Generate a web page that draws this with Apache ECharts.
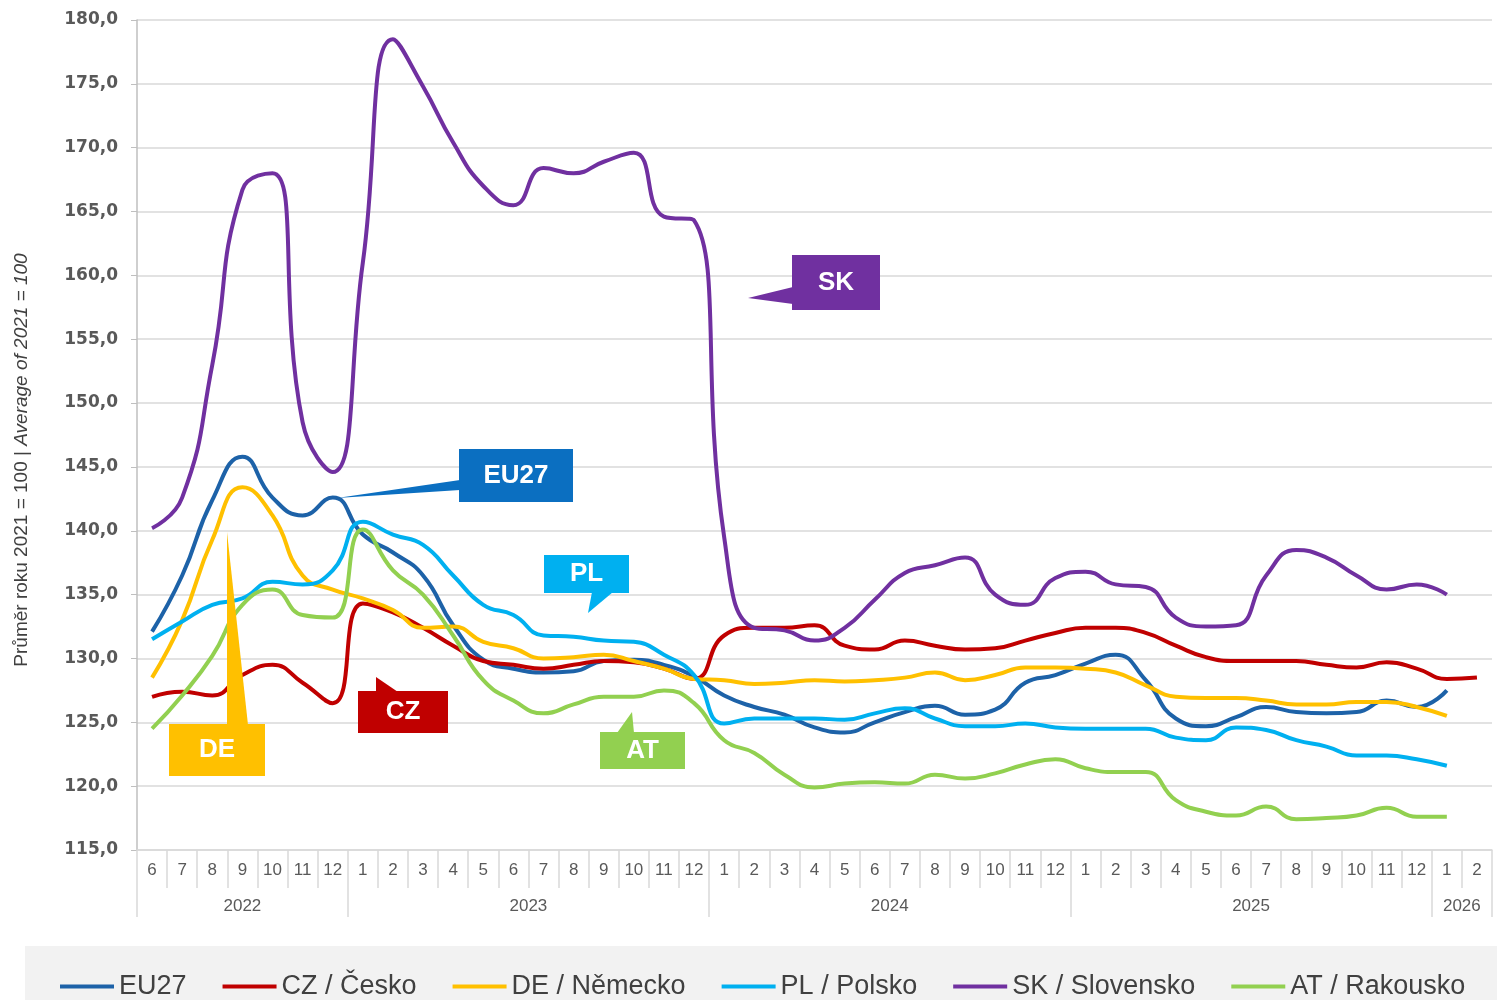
<!DOCTYPE html>
<html>
<head>
<meta charset="utf-8">
<script src="https://cdn.jsdelivr.net/npm/echarts@6/dist/echarts.min.js"></script>
<style>
  html, body { margin: 0; padding: 0; background: #fff; }
  #main { width: 1497px; height: 1000px; }
</style>
</head>
<body>
<div id="main"></div>
<script>
// měsíce 6/2022 .. 2/2026
const months = ['6','7','8','9','10','11','12',
  '1','2','3','4','5','6','7','8','9','10','11','12',
  '1','2','3','4','5','6','7','8','9','10','11','12',
  '1','2','3','4','5','6','7','8','9','10','11','12',
  '1','2'];
const yearNames = ['2022', '2023', '2024', '2025', '2026'];
const yearMonthCounts = [7, 12, 12, 12, 2];

const yTicks = { min: 115, max: 180, step: 5 };

const eu27 = [132.1,136.5,142.4,145.8,142.6,141.2,142.6,139.7,138.3,136.5,132.6,129.9,129.2,128.9,129.0,129.8,129.9,129.5,128.6,
  127.1,126.2,125.6,124.6,124.2,125.0,125.8,126.3,125.6,126.0,128.1,128.7,
  129.6,130.3,128.3,125.3,124.7,125.4,126.2,125.8,125.7,125.8,126.7,126.2,
  127.5];
const cz = [127.0,127.4,127.1,128.7,129.5,128.1,126.5,134.3,133.6,132.4,131.0,129.8,129.5,129.2,129.5,129.8,129.7,129.2,128.4,
  131.8,132.4,132.4,132.6,131.0,130.7,131.4,131.0,130.7,130.8,131.4,132.0,
  132.4,132.4,132.0,131.0,130.1,129.8,129.8,129.8,129.5,129.3,129.7,129.2,
  128.4,128.5];
const de = [128.5,133.0,139.3,143.4,141.2,136.5,135.4,134.7,133.8,132.4,132.5,131.3,130.8,130.0,130.1,130.3,129.8,129.2,128.4,
  128.3,128.0,128.1,128.3,128.2,128.3,128.5,128.9,128.3,128.7,129.3,129.3,
  129.2,128.9,127.9,127.0,126.9,126.9,126.7,126.4,126.4,126.6,126.6,126.2,
  125.5];
const pl = [131.5,132.9,134.2,134.7,136.0,135.8,136.9,140.7,139.7,138.9,136.5,134.2,133.4,131.8,131.7,131.4,131.3,130.3,128.7,
  124.9,125.3,125.3,125.3,125.2,125.7,126.1,125.3,124.7,124.7,124.9,124.6,
  124.5,124.5,124.5,123.8,123.6,124.6,124.4,123.6,123.1,122.4,122.4,122.1,
  121.6];
const sk = [140.2,142.6,153.0,166.7,168.0,148.5,144.6,161.0,178.5,174.8,170.4,167.0,165.5,168.4,168.0,168.9,169.6,164.6,164.3,
  139.5,132.4,132.2,131.4,132.4,134.6,136.7,137.3,137.9,135.0,134.2,136.3,
  136.8,135.8,135.6,133.2,132.5,132.6,136.5,138.5,137.9,136.5,135.4,135.8,
  135.0];
const at = [124.5,127.1,130.2,134.2,135.4,133.4,133.2,140.1,136.9,135.0,131.8,128.3,126.7,125.7,126.4,127.0,127.0,127.5,126.5,
  123.6,122.6,120.9,119.9,120.2,120.3,120.2,120.9,120.6,121.0,121.7,122.1,
  121.4,121.1,121.1,118.9,118.0,117.7,118.4,117.4,117.5,117.7,118.3,117.6,
  117.6];

const seriesNames = ['EU27', 'CZ / Česko', 'DE / Německo', 'PL / Polsko', 'SK / Slovensko', 'AT / Rakousko'];
const seriesData = [eu27, cz, de, pl, sk, at];
const colors = ['#1d62a8', '#c00000', '#ffc000', '#00b0f0', '#7030a0', '#92d050'];

// popisky (bubliny) u čar
const callouts = [
  { label: 'SK',   color: '#7030a0', box: [792, 255, 88, 55],  tip: [[793, 287], [748, 298], [793, 304]] },
  { label: 'EU27', color: '#0b6fc1', box: [459, 449, 114, 53], tip: [[460, 480], [337, 498], [460, 490]] },
  { label: 'PL',   color: '#00b0f0', box: [544, 555, 85, 38],  tip: [[592, 592], [588, 613], [613, 592]] },
  { label: 'CZ',   color: '#c00000', box: [358, 691, 90, 42],  tip: [[376, 692], [376, 677], [398, 692]] },
  { label: 'DE',   color: '#ffc000', box: [169, 724, 96, 52],  tip: [[227, 725], [227, 532], [248, 725]] },
  { label: 'AT',   color: '#92d050', box: [600, 732, 85, 37],  tip: [[617, 733], [632, 712], [634, 733]] }
];

// roky – popisek na středu skupiny měsíců
const yearLabelAt = {};
const yearStarts = [];
let pos = 0;
yearNames.forEach((y, k) => {
  const n = yearMonthCounts[k];
  yearStarts.push(pos);
  if (n % 2) yearLabelAt[pos + (n - 1) / 2] = '{c|' + y + '}';
  else yearLabelAt[pos + n / 2 - 1] = '{s|' + y + '}';
  pos += n;
});

const font = 'Liberation Sans, Arial, sans-serif';
const graphics = [
  { type: 'rect', left: 25, top: 946, shape: { width: 1472, height: 54 }, style: { fill: '#f2f2f2' }, z: 0 }
];
callouts.forEach(c => {
  graphics.push({ type: 'polygon', shape: { points: c.tip }, style: { fill: c.color }, z: 10 });
  graphics.push({ type: 'rect', shape: { x: c.box[0], y: c.box[1], width: c.box[2], height: c.box[3] }, style: { fill: c.color }, z: 10 });
  graphics.push({
    type: 'text', z: 11,
    style: {
      text: c.label, x: c.box[0] + c.box[2] / 2, y: c.box[1] + c.box[3] / 2,
      align: 'center', verticalAlign: 'middle',
      fill: '#fff', font: 'bold 26px ' + font
    }
  });
});

let myChart = echarts.init(document.getElementById('main'));
myChart.setOption({
  animation: false,
  backgroundColor: '#fff',
  textStyle: { fontFamily: font },
  grid: { left: 137, top: 20, right: 5, bottom: 150, outerBoundsMode: 'none' },
  legend: {
    left: 60, top: 973, padding: 0,
    icon: 'rect', itemWidth: 54, itemHeight: 4, itemGap: 36,
    textStyle: { fontSize: 27, color: '#404040', fontFamily: font },
    data: seriesNames
  },
  xAxis: [
    {
      type: 'category', data: months, boundaryGap: true,
      axisLine: { show: true, lineStyle: { color: '#d9d9d9', width: 1.5 } },
      axisTick: { show: true, length: 38, interval: 0, lineStyle: { color: '#d9d9d9', width: 1.5 } },
      axisLabel: { interval: 0, margin: 12, fontSize: 17, color: '#595959' },
      splitLine: { show: false }
    },
    {
      type: 'category', data: months, boundaryGap: true, position: 'bottom', offset: 0,
      axisLine: { show: false },
      axisTick: {
        show: true, length: 67,
        interval: (i) => yearStarts.indexOf(i) >= 0,
        lineStyle: { color: '#d9d9d9', width: 1.5 }
      },
      axisLabel: {
        interval: 0, margin: 48,
        formatter: (v, i) => yearLabelAt[i] || '',
        rich: {
          c: { fontSize: 17, color: '#595959' },
          s: { fontSize: 17, color: '#595959', padding: [0, 0, 0, 30] }
        }
      },
      splitLine: { show: false }
    }
  ],
  yAxis: {
    type: 'value', min: yTicks.min, max: yTicks.max, interval: yTicks.step,
    name: '{n|Průměr roku 2021 = 100 | }{i|Average of 2021 = 100}',
    nameLocation: 'middle', nameGap: 106, nameRotate: 90,
    nameTextStyle: {
      padding: [0, 50, 0, 0],
      rich: {
        n: { fontSize: 19, color: '#404040', fontFamily: font },
        i: { fontSize: 19, color: '#404040', fontStyle: 'italic', fontFamily: font }
      }
    },
    axisLine: { show: true, lineStyle: { color: '#bfbfbf', width: 1.5 } },
    axisTick: { show: true, length: 6, lineStyle: { color: '#bfbfbf' } },
    axisLabel: {
      margin: 19, fontSize: 17, color: '#595959', fontWeight: 'bold',
      fontFamily: 'DejaVu Sans, sans-serif',
      formatter: (v) => v.toFixed(1).replace('.', ',')
    },
    splitLine: { show: true, lineStyle: { color: '#d9d9d9', width: 1.5 } }
  },
  series: seriesNames.map((name, k) => ({
    name: name, type: 'line', xAxisIndex: 0,
    data: seriesData[k],
    smooth: true, showSymbol: false, symbol: 'none',
    lineStyle: { width: 4, color: colors[k] },
    itemStyle: { color: colors[k] }
  })),
  graphic: graphics
});
</script>
</body>
</html>
